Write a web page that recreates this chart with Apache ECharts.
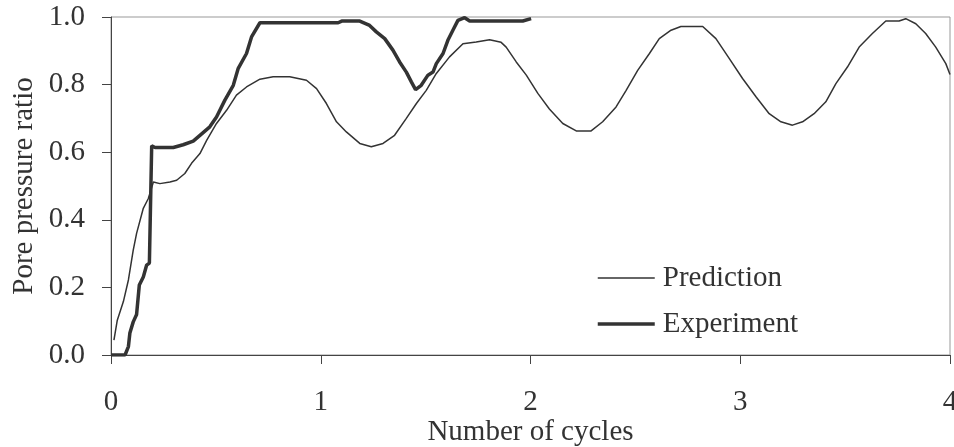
<!DOCTYPE html>
<html>
<head>
<meta charset="utf-8">
<script src="https://cdn.jsdelivr.net/npm/echarts@6/dist/echarts.min.js"></script>
<style>html,body{margin:0;padding:0;background:#fff}#c{width:954px;height:447px}</style>
</head>
<body>
<div id="c"></div>
<script>
var seriesNames = ['Prediction', 'Experiment'];
var xTicks = [0, 1, 2, 3, 4];
var yTicks = [0, 0.2, 0.4, 0.6, 0.8, 1.0];

var prediction = [[0.014,0.044],[0.03,0.103],[0.059,0.158],[0.083,0.222],[0.106,0.31],[0.122,0.36],[0.154,0.434],[0.178,0.463],[0.202,0.512],[0.233,0.507],[0.281,0.512],[0.313,0.517],[0.352,0.537],[0.384,0.567],[0.424,0.596],[0.456,0.635],[0.503,0.685],[0.551,0.724],[0.598,0.769],[0.646,0.793],[0.71,0.816],[0.773,0.823],[0.852,0.823],[0.932,0.813],[0.98,0.788],[1.027,0.744],[1.075,0.69],[1.122,0.66],[1.186,0.626],[1.241,0.616],[1.297,0.626],[1.352,0.65],[1.408,0.70],[1.456,0.744],[1.503,0.783],[1.551,0.833],[1.614,0.882],[1.678,0.921],[1.741,0.926],[1.805,0.933],[1.86,0.925],[1.884,0.911],[1.932,0.867],[1.98,0.828],[2.035,0.774],[2.09,0.728],[2.154,0.685],[2.218,0.663],[2.289,0.663],[2.344,0.69],[2.408,0.734],[2.456,0.783],[2.511,0.842],[2.567,0.892],[2.614,0.936],[2.67,0.961],[2.717,0.972],[2.821,0.972],[2.884,0.936],[2.948,0.877],[3.011,0.818],[3.075,0.764],[3.138,0.714],[3.194,0.69],[3.249,0.68],[3.297,0.69],[3.352,0.714],[3.408,0.749],[3.456,0.803],[3.511,0.852],[3.567,0.911],[3.63,0.951],[3.694,0.988],[3.757,0.988],[3.789,0.995],[3.837,0.98],[3.884,0.951],[3.932,0.911],[3.98,0.862],[4.0,0.83]];

var experiment = [[0,0],[0.067,0],[0.083,0.025],[0.09,0.065],[0.106,0.098],[0.122,0.12],[0.135,0.207],[0.154,0.231],[0.17,0.266],[0.183,0.272],[0.194,0.619],[0.21,0.614],[0.297,0.614],[0.344,0.622],[0.392,0.633],[0.424,0.65],[0.471,0.675],[0.503,0.704],[0.543,0.754],[0.583,0.798],[0.606,0.847],[0.646,0.892],[0.67,0.941],[0.71,0.983],[1.083,0.983],[1.10,0.988],[1.186,0.988],[1.233,0.975],[1.265,0.956],[1.305,0.936],[1.344,0.902],[1.376,0.867],[1.408,0.837],[1.432,0.808],[1.452,0.785],[1.479,0.798],[1.511,0.828],[1.535,0.837],[1.551,0.862],[1.583,0.892],[1.606,0.931],[1.63,0.961],[1.654,0.99],[1.686,0.998],[1.71,0.988],[1.963,0.988],[2.003,0.995]];

var FONT = 'Liberation Serif';
var chart = echarts.init(document.getElementById('c'), null, {renderer: 'canvas'});
chart.setOption({
  animation: false,
  backgroundColor: '#fff',
  grid: {left: 111, right: 4, top: 17, bottom: 92, show: true, borderColor: '#999', borderWidth: 1,
         backgroundColor: 'transparent', containLabel: false, outerBoundsMode: 'none'},
  legend: {
    data: seriesNames,
    orient: 'vertical',
    left: 596, top: 263, padding: 0,
    itemWidth: 57, itemHeight: 30, itemGap: 16,
    itemStyle: {opacity: 0},
    lineStyle: {width: 'inherit'},
    textStyle: {fontFamily: FONT, fontSize: 29, color: '#333', lineHeight: 30, padding: [0, 0, 0, 3]},
    inactiveColor: '#333'
  },
  xAxis: {
    type: 'value', min: xTicks[0], max: xTicks[xTicks.length-1], interval: 1,
    name: 'Number of cycles', nameLocation: 'middle', nameGap: 63, nameMoveOverlap: false,
    nameTextStyle: {fontFamily: FONT, fontSize: 29, color: '#333'},
    axisLine: {show: true, onZero: false, lineStyle: {color: '#444', width: 1}},
    axisTick: {show: true, inside: false, length: 9, lineStyle: {color: '#444'}},
    axisLabel: {fontFamily: FONT, fontSize: 29, color: '#333', margin: 33},
    splitLine: {show: false}
  },
  yAxis: {
    type: 'value', min: yTicks[0], max: yTicks[yTicks.length-1], interval: 0.2,
    name: 'Pore pressure ratio', nameLocation: 'middle', nameGap: 72, nameRotate: 90, nameMoveOverlap: false,
    nameTextStyle: {fontFamily: FONT, fontSize: 29, color: '#333'},
    axisLine: {show: true, onZero: false, lineStyle: {color: '#444', width: 1}},
    axisTick: {show: true, inside: false, length: 9, lineStyle: {color: '#444'}},
    axisLabel: {fontFamily: FONT, fontSize: 29, color: '#333', margin: 26, formatter: function(v){return v.toFixed(1);}},
    splitLine: {show: false}
  },
  series: [
    {name: seriesNames[0], type: 'line', data: prediction, showSymbol: false, symbol: 'none',
     lineStyle: {color: '#333', width: 1.5}, itemStyle: {color: '#333'}, clip: true},
    {name: seriesNames[1], type: 'line', data: experiment, showSymbol: false, symbol: 'none',
     lineStyle: {color: '#333', width: 3.5}, itemStyle: {color: '#333'}, clip: true}
  ]
});
</script>
</body>
</html>
